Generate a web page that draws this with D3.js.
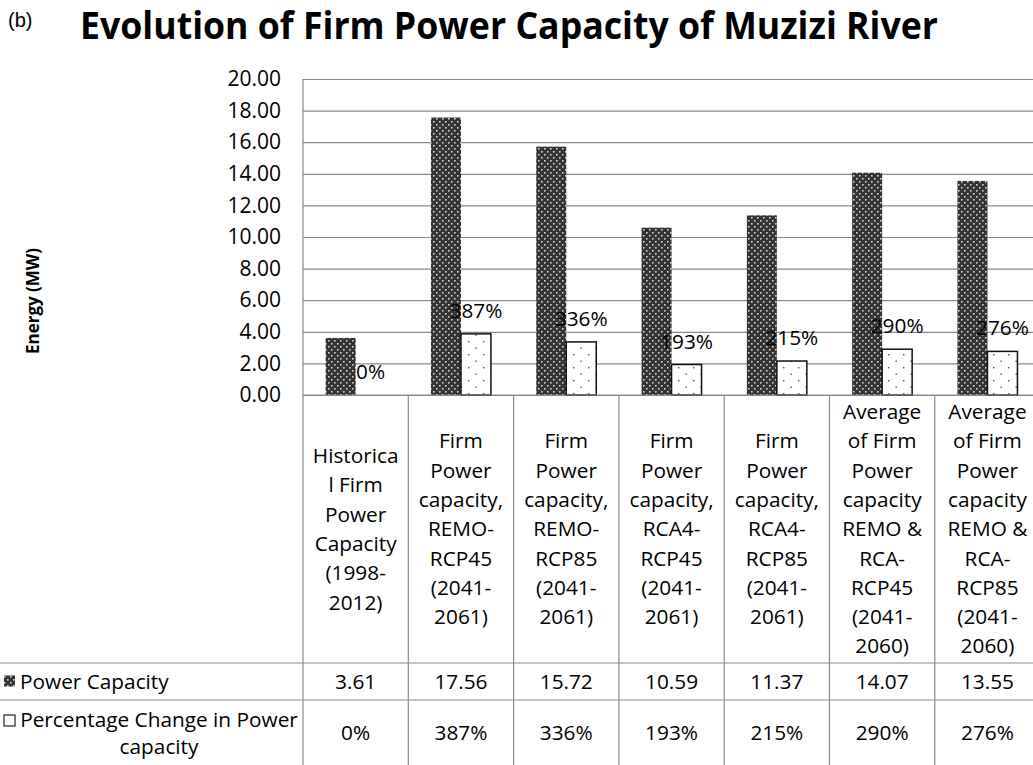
<!DOCTYPE html>
<html>
<head>
<meta charset="utf-8">
<script src="https://cdn.jsdelivr.net/npm/d3@7"></script>
<style>
  body { margin: 0; background: #fff; }
  svg { display: block; font-family: "Open Sans", sans-serif; }
</style>
</head>
<body>
<svg id="chart" width="1033" height="765"></svg>
<script>
"use strict";

// chart values
const categoryLines = [
    ["Historica", "l Firm", "Power", "Capacity", "(1998-", "2012)"],
    ["Firm", "Power", "capacity,", "REMO-", "RCP45", "(2041-", "2061)"],
    ["Firm", "Power", "capacity,", "REMO-", "RCP85", "(2041-", "2061)"],
    ["Firm", "Power", "capacity,", "RCA4-", "RCP45", "(2041-", "2061)"],
    ["Firm", "Power", "capacity,", "RCA4-", "RCP85", "(2041-", "2061)"],
    ["Average", "of Firm", "Power", "capacity", "REMO &", "RCA-", "RCP45", "(2041-", "2060)"],
    ["Average", "of Firm", "Power", "capacity", "REMO &", "RCA-", "RCP85", "(2041-", "2060)"]
];
const powerCapacity = [3.61, 17.56, 15.72, 10.59, 11.37, 14.07, 13.55];
const pctChange = [0, 387, 336, 193, 215, 290, 276];
const seriesNames = ["Power Capacity", "Percentage Change in Power capacity"];
const yDomain = [0, 20];

const plotLeft = 303, plotTop = 79, plotBottom = 395;
const catWidth = 105.3;
const rowTops = [663, 700, 766];
const gridColor = "#8a8a8a";
const txtSize = 20.8;

const svg = d3.select("#chart");

// patterns
const defs = svg.append("defs");
let dark = defs.append("pattern").attr("id", "darkDots")
    .attr("patternUnits", "userSpaceOnUse").attr("width", 6).attr("height", 6);
dark.append("rect").attr("width", 6).attr("height", 6).attr("fill", "#333");
dark.append("rect").attr("x", 1).attr("y", 1).attr("width", 1.6).attr("height", 1.6).attr("fill", "#d4d4d4");
dark.append("rect").attr("x", 4).attr("y", 4).attr("width", 1.6).attr("height", 1.6).attr("fill", "#d4d4d4");

let light = defs.append("pattern").attr("id", "lightDots")
    .attr("patternUnits", "userSpaceOnUse").attr("width", 15).attr("height", 13);
light.append("rect").attr("width", 15).attr("height", 13).attr("fill", "#fff");
light.append("rect").attr("x", 3).attr("y", 3).attr("width", 1.4).attr("height", 1.4).attr("fill", "#555");
light.append("rect").attr("x", 10.5).attr("y", 9.5).attr("width", 1.4).attr("height", 1.4).attr("fill", "#555");

// scales
const xScale = d3.scaleBand()
    .domain(d3.range(categoryLines.length))
    .range([plotLeft, plotLeft + catWidth * categoryLines.length])
    .paddingInner(0).paddingOuter(0);
const xSub = d3.scaleBand()
    .domain(["power", "pct"])
    .range([0, catWidth])
    .paddingInner(0).paddingOuter(0.755);
const yScale = d3.scaleLinear().domain(yDomain).range([plotBottom, plotTop]);
const rightEdge = plotLeft + catWidth * categoryLines.length;

// title
svg.append("text").attr("x", 8).attr("y", 27)
    .attr("font-size", 20).attr("font-family", "Liberation Sans, Arial, sans-serif")
    .text("(b)");
svg.append("text").attr("x", 80).attr("y", 39)
    .attr("font-size", 37).attr("font-weight", "bold")
    .attr("textLength", 858).attr("lengthAdjust", "spacingAndGlyphs")
    .text("Evolution of Firm Power Capacity of Muzizi River");

// y axis + gridlines
const yAxis = d3.axisLeft(yScale)
    .tickValues(d3.range(yDomain[0], yDomain[1] + 0.01, 2))
    .tickFormat(d3.format(".2f"))
    .tickSizeInner(-(rightEdge - plotLeft))
    .tickSizeOuter(0)
    .tickPadding(22);
const gY = svg.append("g").attr("transform", `translate(${plotLeft},0)`).call(yAxis);
gY.select(".domain").remove();
gY.selectAll(".tick line").attr("stroke", gridColor).attr("stroke-width", 1.2);
gY.selectAll(".tick text").attr("font-size", 21).attr("fill", "#000")
    .attr("font-family", "Open Sans, sans-serif");

// axis title
svg.append("text")
    .attr("transform", "translate(39,301) rotate(-90)")
    .attr("text-anchor", "middle").attr("font-size", 17).attr("font-weight", "bold")
    .text("Energy (MW)");

// bars
const barG = svg.append("g");
barG.selectAll("rect.power")
    .data(powerCapacity)
    .join("rect").attr("class", "power")
    .attr("x", (d, i) => xScale(i) + xSub("power"))
    .attr("width", xSub.bandwidth())
    .attr("y", d => yScale(d))
    .attr("height", d => yScale(0) - yScale(d))
    .attr("fill", "url(#darkDots)");
barG.selectAll("rect.pct")
    .data(pctChange)
    .join("rect").attr("class", "pct")
    .attr("x", (d, i) => xScale(i) + xSub("pct"))
    .attr("width", xSub.bandwidth())
    .attr("y", d => yScale(d / 100))
    .attr("height", d => yScale(0) - yScale(d / 100))
    .attr("fill", "url(#lightDots)")
    .attr("stroke", d => d > 0 ? "#111" : "none")
    .attr("stroke-width", 1.5);

// data labels
barG.selectAll("text.lbl")
    .data(pctChange)
    .join("text").attr("class", "lbl")
    .attr("x", (d, i) => xScale(i) + xSub("pct") + xSub.bandwidth() / 2)
    .attr("y", d => yScale(d / 100) - 16)
    .attr("text-anchor", "middle").attr("font-size", txtSize).attr("fill", "#000")
    .text(d => d + "%");

// data table
const tableG = svg.append("g").attr("stroke", gridColor).attr("stroke-width", 1.2);
tableG.append("line").attr("x1", plotLeft).attr("x2", plotLeft).attr("y1", plotTop).attr("y2", 765);
tableG.append("line").attr("x1", plotLeft).attr("x2", rightEdge).attr("y1", plotBottom).attr("y2", plotBottom);
tableG.selectAll("line.col")
    .data(d3.range(1, categoryLines.length + 1))
    .join("line").attr("class", "col")
    .attr("x1", i => xScale(i - 1) + catWidth).attr("x2", i => xScale(i - 1) + catWidth)
    .attr("y1", plotBottom).attr("y2", 765);
tableG.selectAll("line.row")
    .data(rowTops)
    .join("line").attr("class", "row")
    .attr("x1", 0).attr("x2", rightEdge)
    .attr("y1", d => d).attr("y2", d => d);

// category headers
const lineH = 29.3, headMid = (plotBottom + rowTops[0]) / 2;
const headG = svg.append("g").attr("font-size", txtSize).attr("fill", "#000").attr("text-anchor", "middle");
categoryLines.forEach(function(lines, i) {
    let cx = xScale(i) + catWidth / 2;
    let y0 = headMid - (lines.length - 1) * lineH / 2;
    lines.forEach(function(line, j) {
        headG.append("text").attr("x", cx).attr("y", y0 + j * lineH).attr("dy", "0.35em").text(line);
    });
});

// value rows
const rowMid1 = (rowTops[0] + rowTops[1]) / 2;
const rowMid2 = (rowTops[1] + rowTops[2]) / 2;
const valG = svg.append("g").attr("font-size", txtSize).attr("fill", "#000").attr("text-anchor", "middle");
valG.selectAll("text.v1").data(powerCapacity).join("text").attr("class", "v1")
    .attr("x", (d, i) => xScale(i) + catWidth / 2).attr("y", rowMid1).attr("dy", "0.35em")
    .text(d => d3.format(".2f")(d));
valG.selectAll("text.v2").data(pctChange).join("text").attr("class", "v2")
    .attr("x", (d, i) => xScale(i) + catWidth / 2).attr("y", rowMid2).attr("dy", "0.35em")
    .text(d => d + "%");

// legend keys + series names
svg.append("rect").attr("x", 4).attr("y", rowMid1 - 6).attr("width", 11).attr("height", 11)
    .attr("fill", "url(#darkDots)");
svg.append("text").attr("x", 20).attr("y", rowMid1).attr("dy", "0.35em")
    .attr("font-size", txtSize).attr("fill", "#000").text(seriesNames[0]);
svg.append("rect").attr("x", 4).attr("y", rowMid2 - 18).attr("width", 11).attr("height", 11)
    .attr("fill", "#fff").attr("stroke", "#222").attr("stroke-width", 1.2);
svg.append("text").attr("x", 159).attr("y", rowMid2 - 13.5).attr("dy", "0.35em")
    .attr("font-size", txtSize).attr("fill", "#000").attr("text-anchor", "middle")
    .text("Percentage Change in Power");
svg.append("text").attr("x", 159).attr("y", rowMid2 + 14).attr("dy", "0.35em")
    .attr("font-size", txtSize).attr("fill", "#000").attr("text-anchor", "middle")
    .text("capacity");
</script>
</body>
</html>
